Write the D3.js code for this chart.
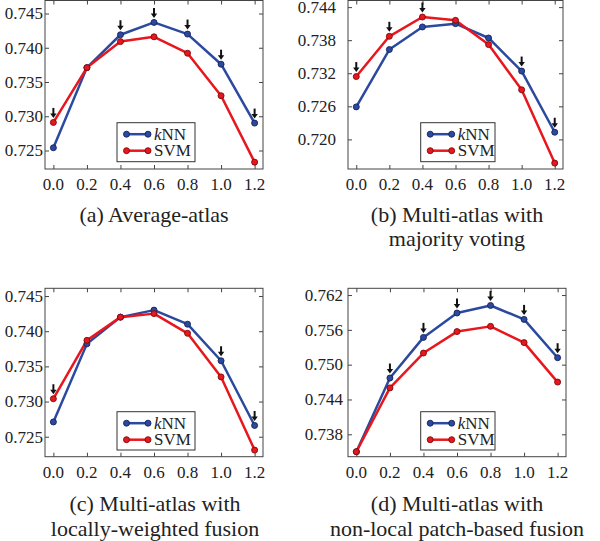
<!DOCTYPE html>
<html><head><meta charset="utf-8">
<script src="https://cdn.jsdelivr.net/npm/d3@7"></script>
</head><body style="margin:0"><svg id="c" width="600" height="541" style="font-family:'Liberation Serif'"></svg>
<script>
const xValues = [0.0, 0.2, 0.4, 0.6, 0.8, 1.0, 1.2];
const xTickLabels = ["0.0","0.2","0.4","0.6","0.8","1.0","1.2"];
const seriesNames = ["kNN", "SVM"];

const knnA = [0.7254, 0.7371, 0.7419, 0.7437, 0.7420, 0.7376, 0.7290];
const svmA = [0.7291, 0.7371, 0.7409, 0.7416, 0.7392, 0.7330, 0.7233];
const arrowsA = [0, 2, 3, 4, 5, 6];
const yTicksA = [0.725, 0.730, 0.735, 0.740, 0.745];

const knnB = [0.7259, 0.7363, 0.7404, 0.7410, 0.7384, 0.7324, 0.7213];
const svmB = [0.7314, 0.7387, 0.7422, 0.7416, 0.7372, 0.7290, 0.7157];
const arrowsB = [0, 1, 2, 5, 6];
const yTicksB = [0.720, 0.726, 0.732, 0.738, 0.744];

const knnC = [0.7271, 0.7382, 0.7420, 0.7430, 0.7410, 0.7358, 0.7266];
const svmC = [0.7304, 0.7387, 0.7420, 0.7425, 0.7397, 0.7335, 0.7231];
const arrowsC = [0, 5, 6];
const yTicksC = [0.725, 0.730, 0.735, 0.740, 0.745];

const knnD = [0.7350, 0.7477, 0.7547, 0.7589, 0.7602, 0.7578, 0.7512];
const svmD = [0.7350, 0.7460, 0.7520, 0.7557, 0.7566, 0.7538, 0.7470];
const arrowsD = [1, 2, 3, 4, 5, 6];
const yTicksD = [0.738, 0.744, 0.750, 0.756, 0.762];

const captionsA = ["(a) Average-atlas"];
const captionsB = ["(b) Multi-atlas with", "majority voting"];
const captionsC = ["(c) Multi-atlas with", "locally-weighted fusion"];
const captionsD = ["(d) Multi-atlas with", "non-local patch-based fusion"];

const FONT = "Liberation Serif";
const colors = {kNN: "#2b4a9f", SVM: "#e8161d"};
const markerStroke = {kNN: "#15235a", SVM: "#7a0b0b"};

const panels = [
  {knn: knnA, svm: svmA, arrows: arrowsA, ticks: yTicksA, yDom: [0.7223, 0.7469],
   box: {l: 45, r: 263, t: 0.5, b: 169}, labelEnd: 43, legend: {x: 117, y: 122.7, w: 78, h: 39},
   captions: captionsA, capX: 154, capY: 221.5},
  {knn: knnB, svm: svmB, arrows: arrowsB, ticks: yTicksB, yDom: [0.71463, 0.7452],
   box: {l: 348, r: 563, t: 0.5, b: 169}, labelEnd: 336, legend: {x: 420.7, y: 122.7, w: 74.3, h: 39},
   captions: captionsB, capX: 457, capY: 221.5},
  {knn: knnC, svm: svmC, arrows: arrowsC, ticks: yTicksC, yDom: [0.72216, 0.7461],
   box: {l: 45, r: 263, t: 288.3, b: 456.7}, labelEnd: 43, legend: {x: 117, y: 411.7, w: 78, h: 38.3},
   captions: captionsC, capX: 155, capY: 511},
  {knn: knnD, svm: svmD, arrows: arrowsD, ticks: yTicksD, yDom: [0.73414, 0.76316],
   box: {l: 348, r: 566, t: 288.3, b: 456.7}, labelEnd: 343, legend: {x: 420.7, y: 411.7, w: 74.3, h: 38.3},
   captions: captionsD, capX: 457, capY: 511}
];

const svg = d3.select("#c");
const fmt = d3.format(".3f");

function label(sel, x, y, txt, size, anchor) {
  return sel.append("text").attr("x", x).attr("y", y)
    .attr("style", `font-family:'${FONT}';font-size:${size}px`)
    .attr("text-anchor", anchor).attr("fill", "#222").text(txt);
}

panels.forEach(p => {
  const bx = p.box;
  const x = d3.scaleLinear().domain([-0.05, 1.25]).range([bx.l, bx.r]);
  const y = d3.scaleLinear().domain(p.yDom).range([bx.b, bx.t]);
  const g = svg.append("g");

  g.append("rect").attr("x", bx.l).attr("y", bx.t).attr("width", bx.r - bx.l).attr("height", bx.b - bx.t)
    .attr("fill", "#fff").attr("stroke", "#444").attr("stroke-width", 1);

  const xb = d3.axisBottom(x).tickValues(xValues).tickSizeInner(-4).tickSizeOuter(0).tickFormat("");
  const xt = d3.axisTop(x).tickValues(xValues).tickSizeInner(-4).tickSizeOuter(0).tickFormat("");
  const yl = d3.axisLeft(y).tickValues(p.ticks).tickSizeInner(-4).tickSizeOuter(0).tickFormat("");
  const yr = d3.axisRight(y).tickValues(p.ticks).tickSizeInner(-4).tickSizeOuter(0).tickFormat("");
  [[xb, `translate(0,${bx.b})`], [xt, `translate(0,${bx.t})`], [yl, `translate(${bx.l},0)`], [yr, `translate(${bx.r},0)`]]
    .forEach(([ax, tr]) => {
      const a = g.append("g").attr("transform", tr).call(ax);
      a.select(".domain").remove();
      a.selectAll(".tick text").remove();
      a.selectAll(".tick line").attr("stroke", "#444");
    });
  xValues.forEach((v, i) => label(g, x(v), bx.b + 21, xTickLabels[i], 17, "middle"));
  p.ticks.forEach(v => label(g, p.labelEnd, y(v) + 5.8, fmt(v), 17, "end"));

  const pairs = [["kNN", p.knn], ["SVM", p.svm]];
  const line = d3.line().x((d, i) => x(xValues[i])).y(d => y(d));
  pairs.forEach(([name, vals]) => {
    g.append("path").datum(vals).attr("d", line).attr("fill", "none")
      .attr("stroke", colors[name]).attr("stroke-width", 2.5).attr("stroke-linejoin", "round");
  });
  pairs.forEach(([name, vals]) => {
    g.selectAll(null).data(vals).enter().append("circle")
      .attr("cx", (d, i) => x(xValues[i])).attr("cy", d => y(d)).attr("r", 3)
      .attr("fill", colors[name]).attr("stroke", markerStroke[name]).attr("stroke-width", 0.9);
  });

  p.arrows.forEach(i => {
    const v = Math.max(p.knn[i], p.svm[i]);
    const cx = x(xValues[i]), tip = y(v) - 4.5;
    g.append("line").attr("x1", cx).attr("x2", cx).attr("y1", tip - 10).attr("y2", tip - 3)
      .attr("stroke", "#111").attr("stroke-width", 2);
    g.append("path").attr("d", `M${cx - 3.2},${tip - 4.5}L${cx + 3.2},${tip - 4.5}L${cx},${tip}Z`).attr("fill", "#111");
  });

  const L = p.legend;
  g.append("rect").attr("x", L.x).attr("y", L.y).attr("width", L.w).attr("height", L.h)
    .attr("fill", "#fff").attr("stroke", "#333").attr("stroke-width", 1);
  seriesNames.forEach((name, k) => {
    const ly = L.y + 11.5 + k * 16.5;
    g.append("line").attr("x1", L.x + 9.5).attr("x2", L.x + 31).attr("y1", ly).attr("y2", ly)
      .attr("stroke", colors[name]).attr("stroke-width", 2.5);
    [L.x + 9.5, L.x + 31].forEach(cx => g.append("circle").attr("cx", cx).attr("cy", ly).attr("r", 3)
      .attr("fill", colors[name]).attr("stroke", markerStroke[name]).attr("stroke-width", 0.9));
    const t = label(g, L.x + 37, ly + 5.5, name === "kNN" ? "" : name, 17, "start");
    if (name === "kNN") {
      t.append("tspan").attr("font-style", "italic").text("k");
      t.append("tspan").text("NN");
    }
  });

  p.captions.forEach((c, k) => label(svg, p.capX, p.capY + k * 24.5, c, 22, "middle"));
});
</script></body></html>
